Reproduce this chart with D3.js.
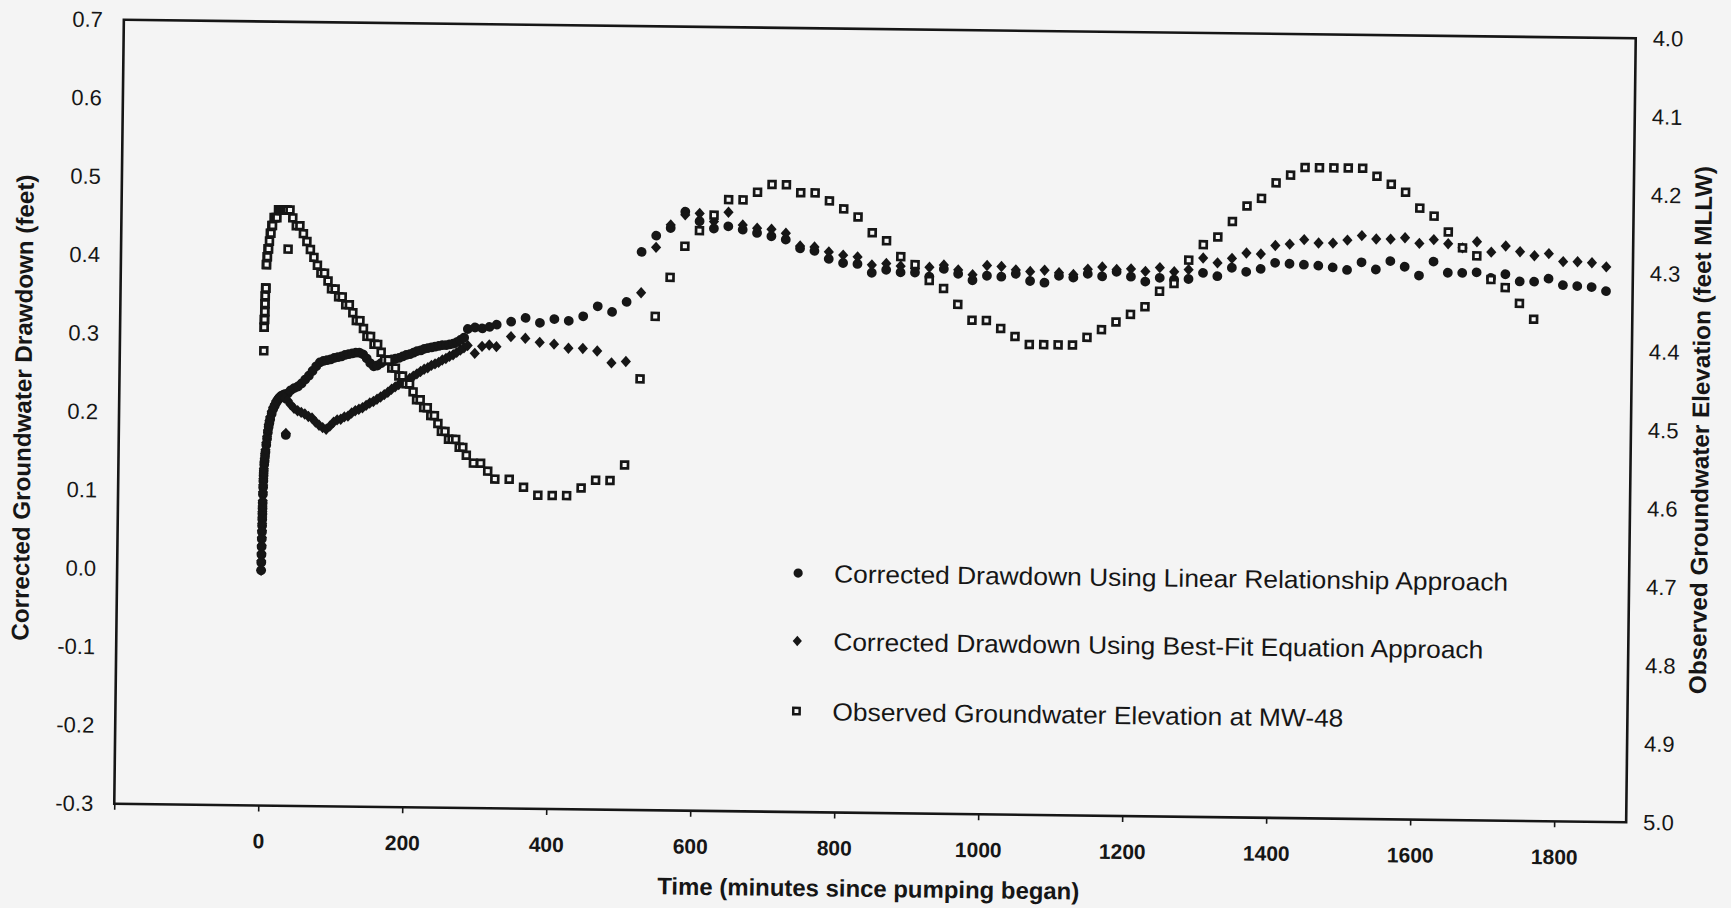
<!DOCTYPE html>
<html>
<head>
<meta charset="utf-8">
<script src="https://cdn.jsdelivr.net/npm/d3@7"></script>
<style>
  html, body { margin: 0; padding: 0; background: #f4f4f4; }
  svg { display: block; }
  text { font-family: "Liberation Sans", Arial, Helvetica, sans-serif; fill: #161616; }
</style>
</head>
<body>
<svg id="chart" width="1731" height="908"></svg>
<script>
// ---------------- DATA ----------------
const times = [0,0.1,0.2,0.3,0.4,0.5,0.6,0.7,0.8,0.9,1.0,1.2,1.4,1.6,1.8,2.0,2.5,3,3.5,4,5,6,7,8,9,10,12,14,16,18,20,22,24,26,28,30,32,34,
  38,43,48,53,58,63,68,73,78,83,88,93,98,103,108,113,118,123,128,133,138,143,148,153,158,163,168,173,178,183,
  188,193,198,203,208,213,218,223,228,233,238,243,248,253,258,263,268,273,278,283,
  293,303,313,
  323,343,363,383,403,423,443,463,483,503,523,543,563,583,603,623,643,663,683,703,
  723,743,763,783,803,823,843,863,883,903,923,943,963,983,1003,1023,1043,1063,1083,1103,
  1123,1143,1163,1183,1203,1223,1243,1263,1283,1303,1323,1343,1363,1383,1403,1423,1443,1463,1483,1503,
  1523,1543,1563,1583,1603,1623,1643,1663,1683,1703,1723,1743,1763,1783,1803,1823,1843,1863];

// Corrected drawdown, linear relationship approach (feet, left axis)
const linearDrawdown = [0.000,0.010,0.020,0.030,0.040,0.049,0.057,0.065,0.072,0.079,0.086,0.097,0.106,0.114,0.121,0.127,0.135,0.140,0.146,0.151,
  0.160,0.168,0.176,0.183,0.188,0.193,0.200,0.206,0.210,0.214,0.217,0.220,0.222,0.223,0.224,0.225,0.173,0.226,
  0.230,0.233,0.235,0.239,0.244,0.249,0.255,0.261,0.266,0.268,
  0.269,0.270,0.272,0.273,0.274,0.276,0.277,0.278,0.279,0.279,
  0.277,0.272,0.266,0.262,0.263,0.266,0.269,0.270,0.271,0.272,
  0.273,0.275,0.277,0.278,0.280,0.282,0.283,0.285,0.286,0.287,
  0.288,0.289,0.290,0.290,0.291,0.292,0.294,0.297,0.300,0.311,
  0.313,0.312,0.314,
  0.317,0.321,0.326,0.320,0.325,0.323,0.329,0.342,0.335,0.348,
  0.412,0.433,0.443,0.464,0.452,0.443,0.446,0.442,0.438,0.434,
  0.430,0.419,0.416,0.406,0.401,0.400,0.389,0.393,0.390,0.390,
  0.385,0.395,0.389,0.381,0.387,0.386,0.390,0.381,0.379,0.388,
  0.386,0.391,0.388,0.394,0.388,0.382,0.387,0.385,0.386,0.394,
  0.390,0.401,0.396,0.400,0.408,0.407,0.406,0.405,0.403,0.400,
  0.410,0.401,0.412,0.405,0.394,0.412,0.398,0.398,0.399,0.392,
  0.397,0.388,0.388,0.392,0.384,0.383,0.382,0.377];

// Corrected drawdown, best-fit equation approach (feet, left axis)
const bestFitDrawdown = [0.000,0.012,0.022,0.032,0.042,0.051,0.060,0.068,0.075,0.082,0.089,0.100,0.109,0.117,0.124,0.130,0.138,0.143,0.149,0.154,
  0.163,0.171,0.179,0.186,0.191,0.196,0.203,0.208,0.212,0.216,0.219,0.221,0.222,0.222,0.221,0.220,0.175,0.217,
  0.212,0.207,0.204,0.202,0.200,0.197,0.195,0.190,0.186,0.183,
  0.181,0.185,0.190,0.193,0.194,0.197,0.198,0.202,0.205,0.207,
  0.209,0.212,0.215,0.217,0.220,0.223,0.226,0.229,0.233,0.236,
  0.239,0.242,0.244,0.247,0.250,0.253,0.256,0.259,0.261,0.264,
  0.266,0.268,0.271,0.273,0.276,0.278,0.281,0.284,0.287,0.290,
  0.280,0.289,0.291,
  0.289,0.302,0.300,0.295,0.293,0.288,0.288,0.285,0.270,0.272,
  0.360,0.418,0.447,0.460,0.462,0.452,0.464,0.448,0.444,0.443,
  0.438,0.422,0.421,0.415,0.411,0.409,0.399,0.401,0.398,0.395,
  0.397,0.400,0.394,0.388,0.400,0.399,0.395,0.393,0.395,0.392,
  0.390,0.397,0.400,0.397,0.398,0.395,0.400,0.395,0.398,0.413,
  0.407,0.413,0.420,0.419,0.430,0.432,0.438,0.434,0.434,0.438,
  0.444,0.440,0.440,0.442,0.435,0.440,0.435,0.430,0.438,0.425,
  0.433,0.426,0.421,0.424,0.414,0.414,0.413,0.408];

// Observed groundwater elevation at MW-48 (feet MLLW, right axis)
const observedElevation = [4.42,4.39,4.39,4.38,4.38,4.38,4.37,4.37,4.36,4.36,4.35,4.35,4.34,4.34,4.34,4.31,4.31,4.30,4.30,4.29,
  4.29,4.28,4.27,4.27,4.26,4.26,4.25,4.25,4.25,4.24,4.24,4.24,4.24,4.24,4.24,4.24,4.29,4.24,
  4.25,4.26,4.26,4.27,4.28,4.29,4.30,4.31,4.32,4.32,
  4.33,4.34,4.34,4.35,4.35,4.36,4.36,4.37,4.38,4.38,
  4.39,4.40,4.40,4.41,4.41,4.42,4.43,4.43,4.44,4.44,
  4.45,4.45,4.46,4.46,4.47,4.48,4.48,4.49,4.49,4.50,
  4.50,4.51,4.52,4.52,4.53,4.53,4.53,4.54,4.54,4.55,
  4.56,4.56,4.57,
  4.58,4.58,4.59,4.60,4.60,4.60,4.59,4.58,4.58,4.56,
  4.45,4.37,4.32,4.28,4.26,4.24,4.22,4.22,4.21,4.20,
  4.20,4.21,4.21,4.22,4.23,4.24,4.26,4.27,4.29,4.30,
  4.32,4.33,4.35,4.37,4.37,4.38,4.39,4.40,4.40,4.40,
  4.40,4.39,4.38,4.37,4.36,4.35,4.33,4.32,4.29,4.27,
  4.26,4.24,4.22,4.21,4.19,4.18,4.17,4.17,4.17,4.17,
  4.17,4.18,4.19,4.20,4.22,4.23,4.25,4.27,4.28,4.31,
  4.32,4.34,4.36,null,null,null,null,null];

const xTickValues = [-200,0,200,400,600,800,1000,1200,1400,1600,1800];
const xTickLabels = ["","0","200","400","600","800","1000","1200","1400","1600","1800"];
const leftTickValues = [0.7,0.6,0.5,0.4,0.3,0.2,0.1,0.0,-0.1,-0.2,-0.3];
const rightTickValues = [4.0,4.1,4.2,4.3,4.4,4.5,4.6,4.7,4.8,4.9,5.0];
const legendLabels = ["Corrected Drawdown Using Linear Relationship Approach",
                      "Corrected Drawdown Using Best-Fit Equation Approach",
                      "Observed Groundwater Elevation at MW-48"];
const xTitle = "Time (minutes since pumping began)";
const leftTitle = "Corrected Groundwater Drawdown (feet)";
const rightTitle = "Observed Groundwater Elevation (feet MLLW)";

// ---------------- LAYOUT ----------------
const ink = "#161616";
const plot = {left: 119, right: 1631, top: 29, bottom: 813};
const svg = d3.select("#chart");
svg.append("rect").attr("width", 1731).attr("height", 908).attr("fill", "#f4f4f4");
// the scanned page is tilted slightly clockwise
const g = svg.append("g").attr("transform", "rotate(0.7, 875, 421)");

const x = d3.scaleLinear().domain([-200, 1900]).range([plot.left, plot.right]);
const yL = d3.scaleLinear().domain([-0.3, 0.7]).range([plot.bottom, plot.top]);
const yR = d3.scaleLinear().domain([5.0, 4.0]).range([plot.bottom, plot.top]);

function styleAxis(sel, size, weight) {
  sel.attr("font-family", null).attr("font-size", null);
  sel.select(".domain").remove();
  sel.selectAll(".tick line").attr("stroke", ink).attr("stroke-width", 1.6);
  sel.selectAll(".tick text").attr("font-size", size).attr("font-weight", weight).attr("fill", ink);
}

// bottom axis
g.append("g").attr("transform", `translate(0,${plot.bottom})`)
  .call(d3.axisBottom(x).tickValues(xTickValues).tickSize(6).tickPadding(22)
        .tickFormat((d, i) => xTickLabels[i]))
  .call(s => styleAxis(s, 21, "bold"));

// left axis
g.append("g").attr("transform", `translate(${plot.left},0)`)
  .call(d3.axisLeft(yL).tickValues(leftTickValues).tickSize(0).tickPadding(21)
        .tickFormat(d => d.toFixed(1)))
  .call(s => styleAxis(s, 22, "normal"));

// right axis
g.append("g").attr("transform", `translate(${plot.right},0)`)
  .call(d3.axisRight(yR).tickValues(rightTickValues).tickSize(0).tickPadding(17)
        .tickFormat(d => d.toFixed(1)))
  .call(s => styleAxis(s, 22, "normal"));

// plot frame
g.append("rect")
  .attr("x", plot.left).attr("y", plot.top)
  .attr("width", plot.right - plot.left).attr("height", plot.bottom - plot.top)
  .attr("fill", "none").attr("stroke", ink).attr("stroke-width", 2.6);

// axis titles
g.append("text").attr("x", 874).attr("y", 897).attr("text-anchor", "middle")
  .attr("font-size", 24).attr("font-weight", "bold")
  .attr("textLength", 422).attr("lengthAdjust", "spacingAndGlyphs").text(xTitle);
g.append("text").attr("transform", "translate(31,418) rotate(-90)").attr("text-anchor", "middle")
  .attr("font-size", 24).attr("font-weight", "bold")
  .attr("textLength", 466).attr("lengthAdjust", "spacingAndGlyphs").text(leftTitle);
g.append("text").attr("transform", "translate(1709,420) rotate(-90)").attr("text-anchor", "middle")
  .attr("font-size", 24).attr("font-weight", "bold")
  .attr("textLength", 528).attr("lengthAdjust", "spacingAndGlyphs").text(rightTitle);

// marker shapes
const diamondPath = (s, w) => `M0,${-s}L${w},0L0,${s}L${-w},0Z`;

function points(arr) {
  return times.map((t, i) => ({t: t, v: arr[i]})).filter(d => d.v !== null && d.v !== undefined);
}

// series 1: filled circles
g.append("g").selectAll("circle").data(points(linearDrawdown)).join("circle")
  .attr("cx", d => x(d.t)).attr("cy", d => yL(d.v)).attr("r", 4.9).attr("fill", ink);

// series 2: filled diamonds
g.append("g").selectAll("path").data(points(bestFitDrawdown)).join("path")
  .attr("transform", d => `translate(${x(d.t)},${yL(d.v)})`)
  .attr("d", diamondPath(5.7, 5.1)).attr("fill", ink);

// series 3: open squares on the secondary axis
g.append("g").selectAll("rect").data(points(observedElevation)).join("rect")
  .attr("x", d => x(d.t) - 3.4).attr("y", d => yR(d.v) - 3.4)
  .attr("width", 6.8).attr("height", 6.8)
  .attr("fill", "#f7f7f7").attr("stroke", ink).attr("stroke-width", 2.7);

// legend
const legendRows = [574, 642, 712];
const legendWidths = [674, 650, 511];
const lg = g.append("g");
lg.append("circle").attr("cx", 800).attr("cy", legendRows[0]).attr("r", 4.6).attr("fill", ink);
lg.append("path").attr("transform", `translate(800,${legendRows[1]})`).attr("d", diamondPath(5.2, 4.6)).attr("fill", ink);
lg.append("rect").attr("x", 796.8).attr("y", legendRows[2] - 3.2).attr("width", 6.4).attr("height", 6.4)
  .attr("fill", "#f7f7f7").attr("stroke", ink).attr("stroke-width", 2.5);
lg.selectAll("text.leg").data(legendLabels).join("text").attr("class", "leg")
  .attr("x", 836).attr("y", (d, i) => legendRows[i]).attr("dy", "0.36em")
  .attr("font-size", 25)
  .attr("textLength", (d, i) => legendWidths[i]).attr("lengthAdjust", "spacingAndGlyphs")
  .text(d => d);
</script>
</body>
</html>
